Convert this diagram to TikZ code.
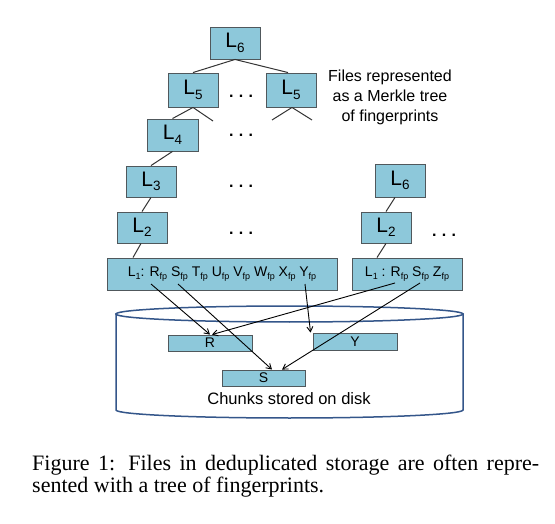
\documentclass[tikz,border=0pt]{standalone}
\usepackage{fontspec}
\setmainfont{Liberation Sans}
\newfontfamily\capfont{Liberation Serif}
\usetikzlibrary{calc,arrows.meta}
\definecolor{boxfill}{RGB}{141,200,218}
\definecolor{boxline}{RGB}{80,88,92}
\definecolor{diskline}{RGB}{52,86,138}
\newcommand{\fpsub}{\raisebox{-3pt}{\fontsize{9}{9}\selectfont fp}}
\newcommand{\onesub}{\raisebox{-3pt}{\fontsize{9}{9}\selectfont 1}}
\newcommand{\lsub}[1]{L\raisebox{-4.5pt}{\fontsize{13.5}{13.5}\selectfont #1}}
\begin{document}
\begin{tikzpicture}[x=1pt,y=-1pt,
  lbox/.style={draw=boxline,fill=boxfill,line width=0.9pt,inner sep=0pt,
    font=\fontsize{21}{22}\selectfont,minimum width=50pt,minimum height=32pt},
  rowbox/.style={draw=boxline,fill=boxfill,line width=0.9pt,inner sep=0pt,
    font=\fontsize{14}{16}\selectfont,minimum height=32pt},
  chunkbox/.style={draw=boxline,fill=boxfill,line width=0.9pt,inner sep=0pt,
    font=\fontsize{14}{16}\selectfont,minimum width=84pt,minimum height=16pt},
  dotsnode/.style={inner sep=0pt,font=\fontsize{16}{18}\selectfont\bfseries},
  treeline/.style={draw=black!80,line width=1pt},
  ptr/.style={draw=black,line width=0.9pt,-{Straight Barb[length=5pt,width=6pt]}},
  disk/.style={draw=diskline,line width=1.5pt,fill=white}
]
\useasboundingbox (0,0) rectangle (555,524);

% disk cylinder
\path[disk] (116,314) -- (116,410) arc[start angle=180,end angle=360,x radius=173.5pt,y radius=8pt] -- (463,314) -- cycle;
\path[disk] (289.5,314) ellipse [x radius=173.5pt,y radius=8pt];

% tree nodes
\node[lbox] (L6a) at (235,43) {\lsub{6}};
\node[lbox,minimum height=34pt] (L5a) at (193,90) {\lsub{5}};
\node[lbox,minimum height=34pt] (L5b) at (291,90) {\lsub{5}};
\node[lbox,minimum width=51pt] (L4) at (172.5,135) {\lsub{4}};
\node[lbox,minimum height=31pt] (L3) at (151,181.5) {\lsub{3}};
\node[lbox,minimum height=31pt] (L2a) at (142,227.5) {\lsub{2}};
\node[rowbox,minimum width=230pt] (L1a) at (222,274) {L\onesub: R\fpsub{} S\fpsub{} T\fpsub{} U\fpsub{} V\fpsub{} W\fpsub{} X\fpsub{} Y\fpsub};
\node[lbox,minimum height=33pt] (L6b) at (400,180.5) {\lsub{6}};
\node[lbox,minimum height=31pt] (L2b) at (386,227.5) {\lsub{2}};
\node[rowbox,minimum width=110pt] (L1b) at (407,274) {L\onesub{} : R\fpsub{} S\fpsub{} Z\fpsub};

% chunks
\node[chunkbox] (R) at (210,343) {R};
\node[chunkbox,minimum height=17pt] (Y) at (355,341.5) {Y};
\node[chunkbox,minimum width=83pt] (S) at (263.5,378) {S};

% dots
\node[dotsnode] (d1) at (241,96) {.\,\,.\,\,.};
\node[dotsnode] (d2) at (241,135) {.\,\,.\,\,.};
\node[dotsnode] (d3) at (241,186) {.\,\,.\,\,.};
\node[dotsnode] (d4) at (241,233) {.\,\,.\,\,.};
\node[dotsnode] (d5) at (444,235) {.\,\,.\,\,.};

% labels
\node[align=center,font=\fontsize{16}{20}\selectfont,inner sep=0pt] (note) at (390,97) {Files represented\\as a Merkle tree\\of fingerprints};
\node[font=\fontsize{16.5}{18}\selectfont,inner sep=0pt] (chunks) at (289,399) {Chunks stored on disk};

% tree edges
\coordinate (s1) at (213,121);
\coordinate (s2) at (272,120);
\coordinate (s3) at (312,120);
\draw[treeline] (L6a.south) -- (L5a.north);
\draw[treeline] (L6a.south) -- ([xshift=-3pt]L5b.north);
\draw[treeline] (L5a.south) -- (L4.north);
\draw[treeline] (L5a.south) -- (s1);
\draw[treeline] ([xshift=1pt]L5b.south) -- (s2);
\draw[treeline] ([xshift=1pt]L5b.south) -- (s3);
\draw[treeline] (L4.south) -- (L3.north);
\draw[treeline] (L3.south) -- ([xshift=0pt]L2a.north);
\draw[treeline] ([xshift=-1pt]L2a.south) -- ([xshift=-89pt]L1a.north);
\draw[treeline] ([xshift=-5pt]L6b.south) -- (L2b.north);
\draw[treeline] (L2b.south) -- ([xshift=-30pt]L1b.north);

% pointers
\coordinate (a1) at (151,284);
\coordinate (a2) at (178,284);
\coordinate (a3) at (305,284);
\coordinate (a4) at (395,283);
\coordinate (a5) at (420,283);
\draw[ptr] (a1) -- ([xshift=0pt]R.north);
\draw[ptr] (a4) -- ([xshift=2pt]R.north);
\draw[ptr] (a2) -- ([xshift=8.5pt]S.north);
\draw[ptr] (a5) -- ([xshift=18.5pt]S.north);
\draw[ptr] (a3) -- ([xshift=-2pt]Y.north west);

% caption
\node[anchor=base west,inner sep=0pt] (cap) at (32,470) {\parbox[t]{507pt}{\capfont\fontsize{22}{22}\selectfont Figure 1: Files in deduplicated storage are often repre-\linebreak sented with a tree of fingerprints.}};
\end{tikzpicture}
\end{document}
